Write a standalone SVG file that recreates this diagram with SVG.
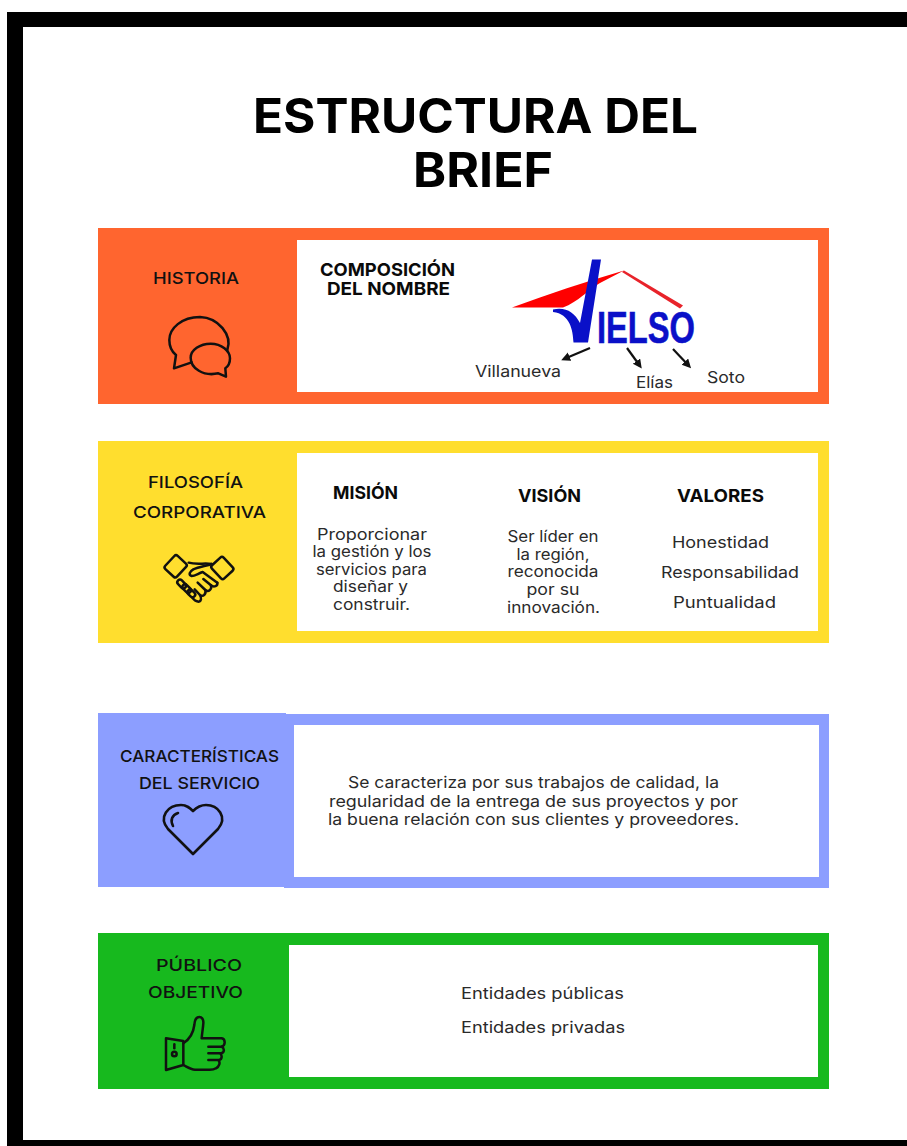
<svg xmlns="http://www.w3.org/2000/svg" width="907" height="1146" viewBox="0 0 907 1146">
<style>
text{font-family:"Inter","Liberation Sans",sans-serif;text-anchor:middle}
.l{font-size:16.5px;fill:#111;font-weight:500}
.h{font-size:18px;font-weight:700;fill:#0a0a0a}
.b{font-size:16px;fill:#2a2a2a}
.c{font-size:15.5px;fill:#2a2a2a}
.t{font-size:47.5px;font-weight:700;fill:#000}
.i{fill:none;stroke:#111;stroke-width:2.6;stroke-linejoin:round;stroke-linecap:round}
.z{fill:none;stroke:#111;stroke-width:7.5;stroke-linejoin:round;stroke-linecap:round}
.w{fill:#fff}
.a{stroke:#111;stroke-width:2.2;fill:none;marker-end:url(#ah)}
</style>
<defs><marker id="ah" markerWidth="10" markerHeight="10" refX="6" refY="4.5" orient="auto" markerUnits="userSpaceOnUse"><path d="M0 0L9 4.5L0 9Z" fill="#111"/></marker></defs>
<rect width="907" height="1146" fill="#fff"/>
<g id="frame"><path d="M7 12H907V27H23V1140H907V1146H7Z" fill="#000"/></g>
<g id="title"><text class="t" x="475.500" y="132.500" textLength="445" lengthAdjust="spacingAndGlyphs">ESTRUCTURA DEL</text><text class="t" x="483" y="186.500" textLength="140" lengthAdjust="spacingAndGlyphs">BRIEF</text></g>
<g id="historia">
<rect x="98" y="228" width="731" height="176" fill="#FF652F"/><rect class="w" x="297" y="240" width="521" height="152"/>
<text class="l" x="196" y="284" textLength="86" lengthAdjust="spacingAndGlyphs">HISTORIA</text>
<g class="z" transform="translate(150 305) scale(.3333)">
<path d="M232 135C248 90 205 38 150 36C95 36 58 70 58 105C58 125 68 142 78 150L72 190L125 172"/>
<path d="M122 158C122 135 150 116 182 116C215 116 240 138 240 160C240 176 232 186 226 190L228 215L205 205C160 215 122 190 122 158Z"/>
</g>
<text class="h" x="387.500" y="276" textLength="135" lengthAdjust="spacingAndGlyphs">COMPOSICIÓN</text><text class="h" x="388.500" y="295" textLength="123" lengthAdjust="spacingAndGlyphs">DEL NOMBRE</text>
<path d="M512 307.500C548 294 585 282 624 270.500L600 283C588 290 578 302 563 307.500Z" fill="#f00"/>
<path d="M624 270.500L683 305.500L680 308.500L622 272Z" fill="#e8232a"/>
<path d="M592 259.500H601L588 342.500H573.500C573 330 570 314 553 312V309.500C566 307 574 312 580 323Z" fill="#0a10c8"/>
<text x="646" y="342.500" style="font-family:'Liberation Sans',sans-serif;font-size:45px;font-weight:700;fill:#0a10c8;stroke:#0a10c8;stroke-width:.6" textLength="98" lengthAdjust="spacingAndGlyphs">IELSO</text>
<text class="b" x="518" y="377" textLength="86" lengthAdjust="spacingAndGlyphs">Villanueva</text><text class="b" x="654.500" y="388" textLength="37" lengthAdjust="spacingAndGlyphs">Elías</text><text class="b" x="726" y="383" textLength="38" lengthAdjust="spacingAndGlyphs">Soto</text>
</g>
<g id="filosofia">
<rect x="98" y="441" width="731" height="202" fill="#FFDE2E"/><rect class="w" x="297" y="453" width="521" height="178"/>
<text class="l" x="195.500" y="488" textLength="95" lengthAdjust="spacingAndGlyphs">FILOSOFÍA</text><text class="l" x="199.500" y="518" textLength="133" lengthAdjust="spacingAndGlyphs">CORPORATIVA</text>
<g class="z" transform="translate(130 540) scale(.3333)">
<rect x="-24" y="-27" width="48" height="54" rx="7" transform="translate(137 79) rotate(43)"/>
<rect x="-24" y="-27" width="48" height="54" rx="7" transform="translate(277 84) rotate(-43)"/>
<path d="M176 68C200 75 225 68 245 72"/>
<path d="M245 72C225 78 205 82 190 88C178 95 175 105 185 108C195 108 205 100 218 96L262 128"/>
<path d="M262 128C264 138 252 143 243 136C246 148 236 158 226 150C229 162 220 172 210 165C215 175 214 184 206 185C198 185 192 180 186 172"/>
<path d="M243 136L220 117M226 150L203 128M210 165L194 148"/>
<rect x="-15" y="-8" width="30" height="16" rx="8" transform="translate(155 132) rotate(45)"/>
<rect x="-15" y="-8" width="30" height="16" rx="8" transform="translate(170 146) rotate(45)"/>
<rect x="-13" y="-8" width="26" height="16" rx="8" transform="translate(184 160) rotate(45)"/>
</g>
<g><text class="h" x="365.500" y="499" textLength="65" lengthAdjust="spacingAndGlyphs">MISIÓN</text><text class="c" x="372" y="539.500" textLength="110" lengthAdjust="spacingAndGlyphs">Proporcionar</text><text class="c" x="372" y="557" textLength="119" lengthAdjust="spacingAndGlyphs">la gestión y los</text><text class="c" x="371.500" y="574.500" textLength="111" lengthAdjust="spacingAndGlyphs">servicios para</text><text class="c" x="370.500" y="592" textLength="75" lengthAdjust="spacingAndGlyphs">diseñar y</text><text class="c" x="371.500" y="609.500" textLength="77" lengthAdjust="spacingAndGlyphs">construir.</text></g>
<g><text class="h" x="549.500" y="502" textLength="63" lengthAdjust="spacingAndGlyphs">VISIÓN</text><text class="c" x="553" y="542" textLength="91" lengthAdjust="spacingAndGlyphs">Ser líder en</text><text class="c" x="553" y="559.500" textLength="73" lengthAdjust="spacingAndGlyphs">la región,</text><text class="c" x="553" y="577" textLength="91" lengthAdjust="spacingAndGlyphs">reconocida</text><text class="c" x="553" y="595" textLength="53" lengthAdjust="spacingAndGlyphs">por su</text><text class="c" x="553.500" y="613" textLength="93" lengthAdjust="spacingAndGlyphs">innovación.</text></g>
<g><text class="h" x="720.500" y="502" textLength="87" lengthAdjust="spacingAndGlyphs">VALORES</text><text class="b" x="720.500" y="548" textLength="97" lengthAdjust="spacingAndGlyphs">Honestidad</text><text class="b" x="730" y="578" textLength="138" lengthAdjust="spacingAndGlyphs">Responsabilidad</text><text class="b" x="724.500" y="608" textLength="103" lengthAdjust="spacingAndGlyphs">Puntualidad</text></g>
</g>
<g id="caracteristicas">
<rect x="284" y="714" width="545" height="174" fill="#8C9EFF"/><rect x="98" y="713" width="188" height="174" fill="#8C9EFF"/><rect class="w" x="294" y="725" width="525" height="152"/>
<text class="l" x="199.500" y="762" textLength="159" lengthAdjust="spacingAndGlyphs">CARACTERÍSTICAS</text><text class="l" x="199.500" y="789" textLength="121" lengthAdjust="spacingAndGlyphs">DEL SERVICIO</text>
<path class="i" d="M193 854L168 829C158 817 168 805 181 805C187 805 190 808 193 811C196 808 200 805 206 805C218 805 228 817 218 829ZM173 826C170 820 172 815 178 813"/>
<text class="b" x="533.500" y="788" textLength="371" lengthAdjust="spacingAndGlyphs">Se caracteriza por sus trabajos de calidad, la</text><text class="b" x="533.500" y="807" textLength="409" lengthAdjust="spacingAndGlyphs">regularidad de la entrega de sus proyectos y por</text><text class="b" x="533.500" y="825" textLength="411" lengthAdjust="spacingAndGlyphs">la buena relación con sus clientes y proveedores.</text>
</g>
<g id="publico">
<rect x="98" y="933" width="731" height="156" fill="#17B91E"/><rect class="w" x="289" y="945" width="529" height="132"/>
<text class="l" x="199" y="971" textLength="86" lengthAdjust="spacingAndGlyphs">PÚBLICO</text><text class="l" x="195.500" y="998" textLength="95" lengthAdjust="spacingAndGlyphs">OBJETIVO</text>
<g class="z" transform="translate(140 1005) scale(.3333)">
<path d="M78 100L130 108V180L78 195Z"/><path d="M103 118V130"/><circle cx="103" cy="147" r="7"/>
<path d="M130 115C145 105 160 85 163 60C164 45 170 36 178 36C186 36 191 44 190 55C189 70 186 85 185 100H245C256 102 258 120 245 125H205M245 125C254 130 254 143 243 145H205M240 145C247 150 247 163 237 165H205M235 165C242 172 238 185 228 190C222 194 210 195 200 194H165C152 193 142 186 130 180"/>
</g>
<text class="b" x="542.500" y="999" textLength="163" lengthAdjust="spacingAndGlyphs">Entidades públicas</text><text class="b" x="543" y="1033" textLength="164" lengthAdjust="spacingAndGlyphs">Entidades privadas</text>
</g>
<g id="connectors">
<path class="a" d="M590 348L564 359"/><path class="a" d="M627 348L640 366"/><path class="a" d="M673 349L689 366"/>
</g>
</svg>
